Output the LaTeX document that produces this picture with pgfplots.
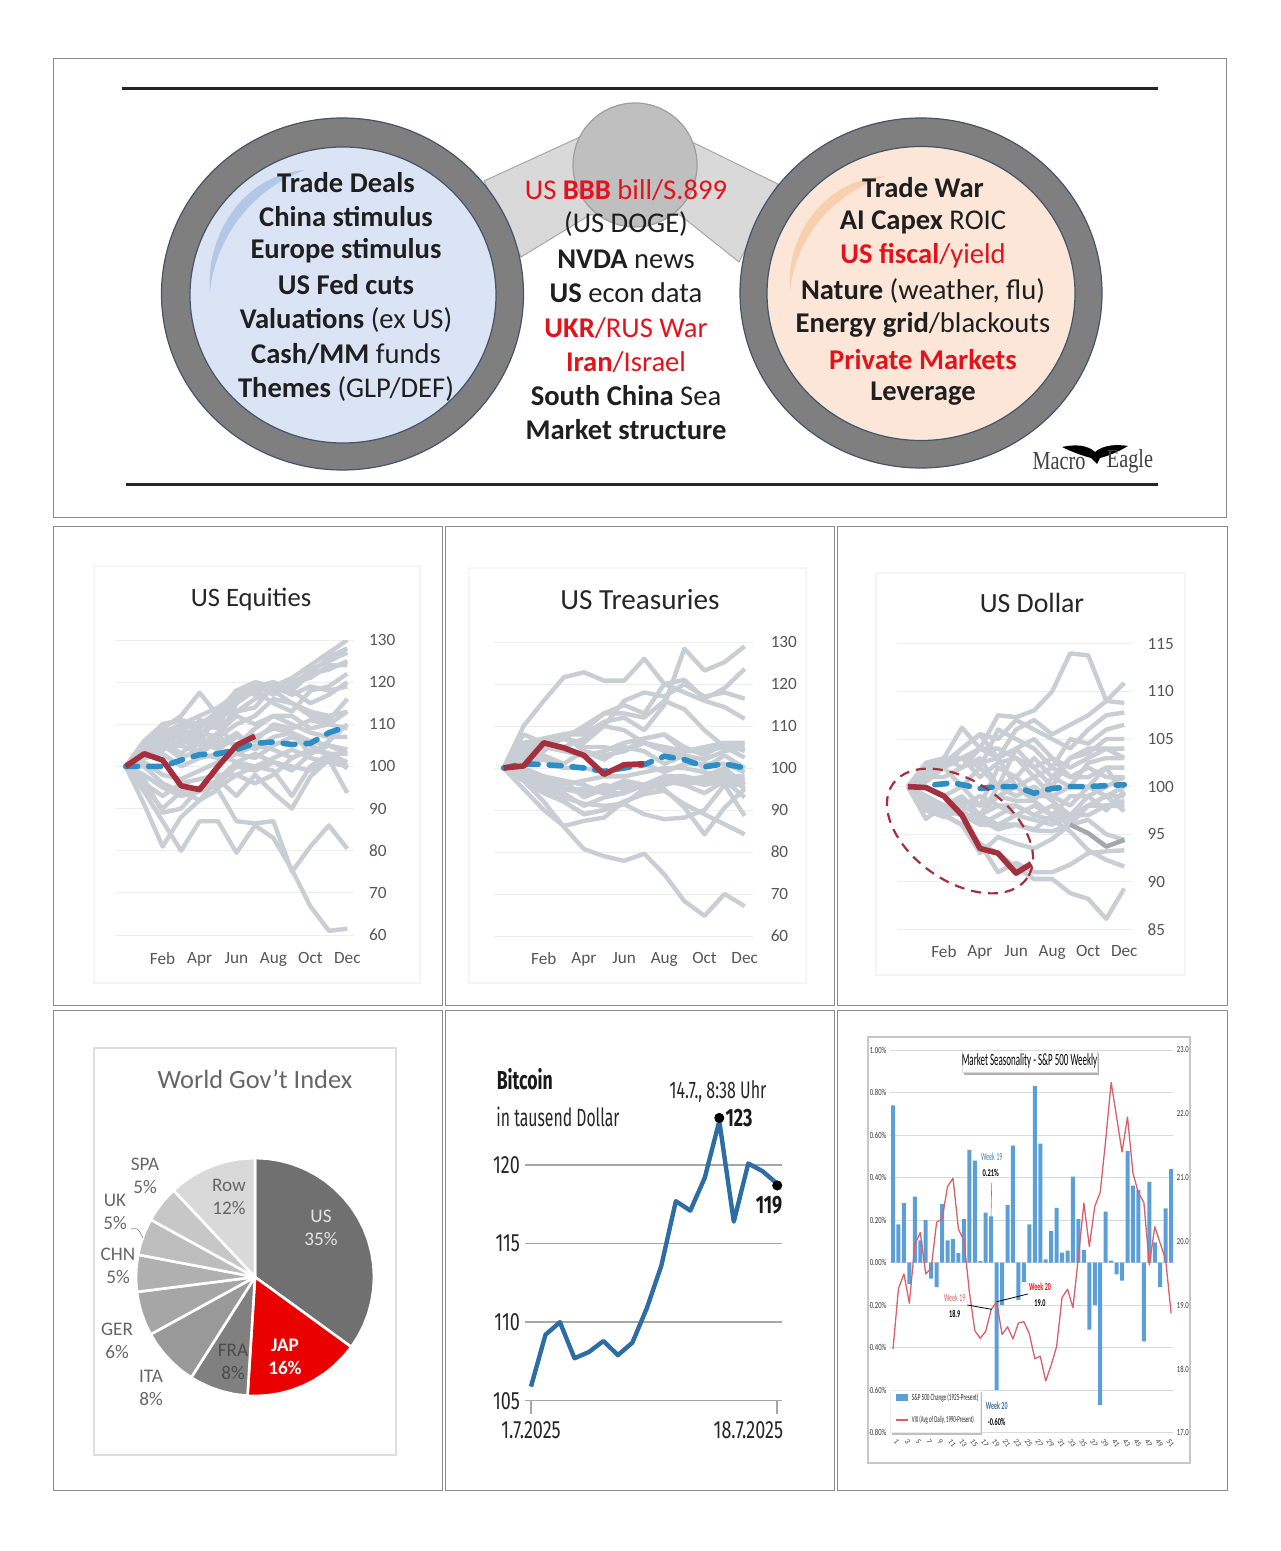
\documentclass[border=0pt]{standalone}
\usepackage{fontspec}
\usepackage{pgfplots}
\pgfplotsset{compat=1.18}
\setmainfont{Carlito}
\newfontfamily\fira{Fira Sans}
\newfontfamily\serifn{Liberation Serif}
\def\px{0.5pt}
\definecolor{glc}{HTML}{C8CED4}
\definecolor{gld}{HTML}{A2A7AA}
\definecolor{bluec}{HTML}{2C8EC4}
\definecolor{redc}{HTML}{A52F3C}
\definecolor{tickc}{HTML}{555555}
\definecolor{ringc}{HTML}{7F7F7F}
\definecolor{ringe}{HTML}{44546A}
\definecolor{barc}{HTML}{5B9FD6}
\definecolor{vixc}{HTML}{D8606A}
\definecolor{lblue}{HTML}{DAE4F4}
\definecolor{lpeach}{HTML}{FBE6D8}
\definecolor{cresb}{HTML}{B4C7E7}
\definecolor{cresp}{HTML}{F8D0B0}
\definecolor{txtred}{HTML}{E3131B}
\definecolor{btc}{HTML}{2E6DA4}
\pgfplotsset{
  scanpanel/.style={scale only axis, axis line style={draw=none}, tick style={draw=none},
    ymajorgrids, grid style={draw=black!7, line width=0.5pt},
    xtick={2,4,6,8,10,12}, xticklabels={Feb,Apr,Jun,Aug,Oct,Dec},
    yticklabel pos=right, tick label style={font=\fontsize{8.6}{10}\selectfont, text=tickc},
    /pgf/number format/assume math mode=true, yticklabel style={anchor=west}},
  gl/.style={glc, line width=2.2pt, line join=round, no marks},
  gd/.style={gld, line width=2.2pt, line join=round, no marks},
  bl/.style={bluec, line width=2.8pt, no marks, line cap=round, dash pattern=on 6pt off 5.5pt},
  rd/.style={redc, line width=2.8pt, no marks, line join=round},
}
\begin{document}
\begin{tikzpicture}
\path[use as bounding box] (0,0) rectangle (640pt,-775.5pt);
\begin{scope}[x=\px,y=-\px]
  % panel frames
  \foreach \a/\b/\c/\d in {53/59/1226/517, 53/526/442/1005, 445/526/834/1005, 837/526/1227/1005,
      53/1010/442/1490, 445/1010/834/1490, 837/1010/1227/1490}
    \draw[black!45, line width=0.5pt] (\a,\b) rectangle (\c,\d);
  \draw[black!85, line width=1.5pt] (122,89) -- (1158,89);
  \draw[black!85, line width=1.5pt] (126,484) -- (1158,484);
  % top diagram
  \filldraw[fill=black!15, draw=black!35, line width=0.5pt]
    (484,181) -- (580,137) -- (692,142) -- (778,184) -- (739,262) -- (680,215) -- (590,215) -- (521,257) -- cycle;
  \filldraw[fill=black!25, draw=black!38, line width=0.6pt] (635,165) circle (62);
  \filldraw[fill=ringc, draw=ringe, line width=0.6pt] (342.5,294) ellipse (181 and 176);
  \filldraw[fill=ringc, draw=ringe, line width=0.6pt] (921,293) ellipse (181 and 175);
  \filldraw[fill=lblue, draw=ringe, line width=0.6pt] (343,295) ellipse (153 and 148);
  \filldraw[fill=lpeach, draw=ringe, line width=0.6pt] (921,293.5) ellipse (154 and 147);
  \fill[cresb] (305,170) .. controls (240,175) and (205,240) .. (210,292) .. controls (215,240) and (250,190) .. (305,170);
  \fill[cresp] (886,176) .. controls (820,180) and (785,240) .. (790,292) .. controls (795,240) and (830,195) .. (886,176);
  \def\tfnt{\fontsize{14.3}{16}\selectfont}
  \foreach \y/\t in {183/{\textbf{Trade Deals}}, 217/{\textbf{China stimulus}}, 251/{\textbf{Europe stimulus}},
      285/{\textbf{US Fed cuts}}, 320/{\textbf{Valuations} (ex US)}, 354/{\textbf{Cash/MM} funds}, 389/{\textbf{Themes} (GLP/DEF)}}
    \node[font=\tfnt, text=black!88] at (346,\y) {\t};
  \foreach \y/\t in {190/{\color{txtred}US \textbf{BBB} bill/S.899}, 224/{(US DOGE)}, 259/{\textbf{NVDA} news},
      293/{\textbf{US} econ data}, 328/{\color{txtred}\textbf{UKR}/RUS War}, 362/{\color{txtred}\textbf{Iran}/Israel},
      396/{\textbf{South China} Sea}, 430/{\textbf{Market structure}}}
    \node[font=\tfnt, text=black!88] at (626,\y) {\t};
  \foreach \y/\t in {188/{\textbf{Trade War}}, 222/{\textbf{AI Capex} ROIC}, 256/{\color{txtred}\textbf{US fiscal}/yield},
      291/{\textbf{Nature} (weather, flu)}, 325/{\textbf{Energy grid}/blackouts}, 360/{\color{txtred}\textbf{Private Markets}}, 394/{\textbf{Leverage}}}
    \node[font=\tfnt, text=black!88] at (923,\y) {\t};
  % logo
  \fill[black] (1062,447) .. controls (1075,444) and (1088,445) .. (1095,452) .. controls (1103,445) and (1116,444) .. (1128,446)
     .. controls (1118,452) and (1108,456) .. (1100,458) -- (1097,464) -- (1091,458) .. controls (1080,455) and (1070,451) .. (1062,447);
  \node[font=\serifn\fontsize{13}{15}\selectfont, xscale=.78, text=black!75] at (1059,461) {Macro};
  \node[font=\serifn\fontsize{13}{15}\selectfont, xscale=.78, text=black!75] at (1130,461) {Eagle};
  % scan borders of the three fan panels
  \draw[black!4, line width=0.7pt] (94,566) rectangle (420,983);
  \draw[black!4, line width=0.7pt] (469,568) rectangle (806,983);
  \draw[black!4, line width=0.7pt] (876,573) rectangle (1185,975);
  \node[font=\fontsize{13.3}{15}\selectfont, text=black!85] at (251,599) {US Equities};
  \node[font=\fontsize{14.6}{16}\selectfont, text=black!85] at (640,600) {US Treasuries};
  \node[font=\fontsize{13.9}{16}\selectfont, text=black!85] at (1032,603) {US Dollar};
\end{scope}

% US Equities
\begin{axis}[scanpanel, at={(115.5*\px,-935*\px)}, anchor=south west, width=238.5*\px, height=295*\px,
  xmin=-0.55, xmax=12.36, ymin=60, ymax=130, ytick={60,70,...,130},
  yticklabel style={xshift=4pt}, xticklabel style={yshift=-5pt}]
\addplot[gl] coordinates {(0,100)(1,106)(2,110)(3,111)(4,108)(5,110)(6,116)(7,118)(8,119)(9,121)(10,124)(11,127)(12,130)};
\addplot[gl] coordinates {(0,100)(1,104)(2,108)(3,110)(4,112)(5,114)(6,117)(7,119)(8,120)(9,118)(10,122)(11,126)(12,128)};
\addplot[gl] coordinates {(0,100)(1,104)(2,107)(3,110)(4,109)(5,113)(6,116)(7,119)(8,117)(9,120)(10,122)(11,123)(12,125)};
\addplot[gl] coordinates {(0,100)(1,103)(2,105)(3,108)(4,106)(5,112)(6,118)(7,117)(8,120)(9,118)(10,115)(11,117)(12,120)};
\addplot[gl] coordinates {(0,100)(1,105)(2,109)(3,112)(4,117.5)(5,112)(6,113)(7,116)(8,118)(9,115)(10,112)(11,111)(12,116)};
\addplot[gl] coordinates {(0,100)(1,103)(2,106)(3,107)(4,108)(5,107)(6,110)(7,112)(8,116)(9,115)(10,113)(11,112)(12,113)};
\addplot[gl] coordinates {(0,100)(1,104)(2,107)(3,105)(4,111)(5,110)(6,104)(7,107)(8,109)(9,108)(10,103)(11,106)(12,110)};
\addplot[gl] coordinates {(0,100)(1,103)(2,106)(3,103)(4,107)(5,105)(6,108)(7,104)(8,107)(9,108)(10,106)(11,105)(12,104)};
\addplot[gl] coordinates {(0,100)(1,102)(2,103)(3,100)(4,102)(5,103)(6,101)(7,100)(8,102)(9,104)(10,102)(11,101)(12,100)};
\addplot[gl] coordinates {(0,100)(1,101)(2,98)(3,97)(4,99)(5,101)(6,103)(7,102)(8,105)(9,107)(10,105)(11,103)(12,103)};
\addplot[gl] coordinates {(0,100)(1,98)(2,95)(3,93)(4,94)(5,97)(6,101)(7,103)(8,101)(9,99)(10,103)(11,105)(12,103)};
\addplot[gl] coordinates {(0,100)(1,96)(2,93)(3,96)(4,97)(5,98)(6,98)(7,100)(8,99)(9,93)(10,100)(11,103)(12,100)};
\addplot[gl] coordinates {(0,100)(1,95)(2,90)(3,94)(4,92)(5,97)(6,93)(7,98)(8,93.7)(9,90)(10,97.6)(11,101.6)(12,93.7)};
\addplot[gl] coordinates {(0,100)(1,97)(2,89)(3,90)(4,95)(5,95)(6,98)(7,96)(8,98)(9,102)(10,104)(11,103)(12,99.5)};
\addplot[gl] coordinates {(0,100)(1,91)(2,81)(3,88)(4,92)(5,94.5)(6,87)(7,86.5)(8,87)(9,75)(10,81)(11,86)(12,80.5)};
\addplot[gl] coordinates {(0,100)(1,94)(2,87)(3,80)(4,87)(5,87)(6,79.5)(7,86)(8,83)(9,75.5)(10,66.8)(11,61)(12,61.5)};
\addplot[gl] coordinates {(0,100)(1,102)(2,105)(3,102)(4,104)(5,107)(6,105)(7,109)(8,112)(9,110)(10,108)(11,107)(12,107)};
\addplot[gl] coordinates {(0,100)(1,106)(2,109)(3,108)(4,103)(5,106)(6,115)(7,118)(8,115)(9,113)(10,118)(11,119)(12,122)};
\addplot[gl] coordinates {(0,100)(1,104)(2,104)(3,106)(4,105)(5,108)(6,112)(7,110)(8,112)(9,112)(10,109)(11,110)(12,113)};
\addplot[gl] coordinates {(0,100)(1,105)(2,108)(3,109)(4,107)(5,111)(6,117)(7,119)(8,118)(9,119)(10,123)(11,125)(12,127)};
\addplot[gl] coordinates {(0,100)(1,104)(2,106)(3,109)(4,110)(5,109)(6,113)(7,114)(8,119)(9,120)(10,121)(11,124)(12,124)};
\addplot[gl] coordinates {(0,100)(1,105)(2,110)(3,111)(4,110)(5,113)(6,118)(7,120)(8,119)(9,117)(10,119)(11,118)(12,119)};
\addplot[gl] coordinates {(0,100)(1,102)(2,104)(3,106)(4,106)(5,104)(6,107)(7,106)(8,110)(9,109)(10,111)(11,110)(12,109)};
\addplot[gl] coordinates {(0,100)(1,103)(2,104)(3,105)(4,103)(5,102)(6,103)(7,105)(8,104)(9,102)(10,104)(11,103)(12,101)};
\addplot[gl] coordinates {(0,100)(1,100)(2,96)(3,94)(4,95)(5,96)(6,100)(7,99)(8,101)(9,100)(10,99)(11,102)(12,100)};
\addplot[bl] coordinates {(0,100)(1,100)(2,100)(3,101.5)(4,102.8)(5,103)(6,104)(7,105.5)(8,105.8)(9,105.2)(10,105.5)(11,108)(12,109.5)};
\addplot[rd] coordinates {(0,100)(1,103)(2,101.5)(3,95.4)(4,94.5)(5,100)(6,105)(7,107.2)};
\end{axis}

% US Treasuries
\begin{axis}[scanpanel, at={(493.5*\px,-936*\px)}, anchor=south west, width=259.2*\px, height=294*\px,
  xmin=-0.5, xmax=12.4, ymin=60, ymax=130, ytick={60,70,...,130},
  yticklabel style={xshift=5.5pt}, xticklabel style={yshift=-4.5pt}]
\addplot[gl] coordinates {(0,100)(1,110)(2,116)(3,121.6)(4,122.8)(5,120.8)(6,120.8)(7,126)(8,120)(9,118)(10,116)(11,114.5)(12,111.7)};
\addplot[gl] coordinates {(0,100)(1,106)(2,107)(3,108)(4,108)(5,111)(6,112)(7,109)(8,115)(9,128.4)(10,123.2)(11,125.2)(12,129)};
\addplot[gl] coordinates {(0,100)(1,104)(2,105)(3,107)(4,110)(5,113)(6,115)(7,113)(8,120)(9,121)(10,116.5)(11,119)(12,123.6)};
\addplot[gl] coordinates {(0,100)(1,103)(2,106)(3,107)(4,106)(5,110)(6,116)(7,118)(8,117)(9,120)(10,117)(11,118)(12,116.5)};
\addplot[gl] coordinates {(0,100)(1,102)(2,104)(3,108)(4,109)(5,113)(6,113)(7,112)(8,116)(9,114)(10,109)(11,105)(12,102.5)};
\addplot[gl] coordinates {(0,100)(1,105)(2,107)(3,108)(4,104)(5,103)(6,104)(7,107)(8,108)(9,104)(10,104)(11,105)(12,106)};
\addplot[gl] coordinates {(0,100)(1,103)(2,105)(3,104)(4,103)(5,104)(6,106)(7,107)(8,108)(9,105)(10,103)(11,106)(12,104)};
\addplot[gl] coordinates {(0,100)(1,102)(2,103)(3,101)(4,104)(5,102)(6,105)(7,104)(8,101)(9,103)(10,100)(11,103)(12,100)};
\addplot[gl] coordinates {(0,100)(1,95)(2,90)(3,86.2)(4,87.4)(5,88.2)(6,92)(7,93.8)(8,94.6)(9,91.4)(10,89)(11,86.6)(12,84.2)};
\addplot[gl] coordinates {(0,100)(1,97)(2,92)(3,86)(4,80.7)(5,79)(6,77.9)(7,79.6)(8,74.7)(9,68.3)(10,64.8)(11,70)(12,67.1)};
\addplot[gl] coordinates {(0,100)(1,98)(2,95)(3,92)(4,89)(5,90)(6,91.4)(7,89)(8,87.8)(9,88.2)(10,90)(11,96)(12,88.6)};
\addplot[gl] coordinates {(0,100)(1,97)(2,95)(3,94)(4,91)(5,93)(6,94)(7,96)(8,95)(9,90.6)(10,84.2)(11,90.6)(12,95)};
\addplot[gl] coordinates {(0,100)(1,98)(2,96)(3,93)(4,91.5)(5,91)(6,91.5)(7,95)(8,96)(9,97)(10,96)(11,97)(12,97)};
\addplot[gl] coordinates {(0,100)(1,99)(2,97)(3,95)(4,94)(5,96)(6,95)(7,96)(8,97)(9,98)(10,97)(11,99)(12,95)};
\addplot[gl] coordinates {(0,100)(1,98)(2,97)(3,97)(4,93)(5,95)(6,97)(7,96)(8,98)(9,97)(10,98)(11,100)(12,96)};
\addplot[gl] coordinates {(0,100)(1,99)(2,98)(3,96)(4,97)(5,98)(6,98)(7,99)(8,100)(9,100)(10,99)(11,98)(12,98)};
\addplot[gl] coordinates {(0,100)(1,101)(2,102)(3,100)(4,100)(5,99)(6,100)(7,101)(8,99)(9,101)(10,101)(11,101)(12,99)};
\addplot[gl] coordinates {(0,100)(1,97)(2,94)(3,92)(4,89)(5,90)(6,92)(7,94)(8,97)(9,96)(10,94)(11,97)(12,93)};
\addplot[gl] coordinates {(0,100)(1,99)(2,96)(3,95)(4,95)(5,94)(6,96)(7,95)(8,97)(9,96)(10,97)(11,96)(12,96)};
\addplot[gl] coordinates {(0,100)(1,100)(2,98)(3,97)(4,96)(5,94)(6,94)(7,96)(8,98)(9,98)(10,96)(11,98)(12,97)};
\addplot[gl] coordinates {(0,100)(1,104)(2,107)(3,107)(4,105)(5,105)(6,104)(7,106)(8,105)(9,104)(10,105)(11,106)(12,106)};
\addplot[gl] coordinates {(0,100)(1,108)(2,106)(3,105)(4,107)(5,110)(6,109)(7,106)(8,104)(9,103)(10,102)(11,104)(12,105)};
\addplot[bl] coordinates {(0,100)(1,101)(2,100.8)(3,100.5)(4,100)(5,99.2)(6,100)(7,100.8)(8,102.8)(9,102)(10,100.3)(11,101)(12,100)};
\addplot[rd] coordinates {(0,100)(1,100.5)(2,106)(3,104.8)(4,103)(5,98.5)(6,100.8)(7,101)};
\end{axis}

% US Dollar
\begin{axis}[scanpanel, at={(897*\px,-929.3*\px)}, anchor=south west, width=234.5*\px, height=285.4*\px,
  xmin=-0.6, xmax=12.4, ymin=85, ymax=115, ytick={85,90,...,115},
  yticklabel style={xshift=4.5pt}, xticklabel style={yshift=-4.5pt}]
\addplot[gl] coordinates {(0,100)(1,102)(2,103)(3,103)(4,104)(5,107.5)(6,107.3)(7,108)(8,110)(9,114)(10,113.8)(11,109)(12,108.8)};
\addplot[gl] coordinates {(0,100)(1,101.5)(2,103)(3,106.2)(4,104)(5,103)(6,106)(7,107)(8,105.5)(9,106.5)(10,107.5)(11,109)(12,110.9)};
\addplot[gl] coordinates {(0,100)(1,102)(2,102.5)(3,104)(4,105.5)(5,105)(6,107)(7,106)(8,105)(9,104)(10,106)(11,107.5)(12,107.8)};
\addplot[gl] coordinates {(0,100)(1,101)(2,103)(3,103)(4,102)(5,106)(6,105)(7,104)(8,102)(9,105)(10,104.5)(11,106)(12,106.5)};
\addplot[gl] coordinates {(0,100)(1,102.5)(2,103)(3,102)(4,103)(5,100)(6,104)(7,102)(8,100)(9,103)(10,103.5)(11,105)(12,105)};
\addplot[gl] coordinates {(0,100)(1,101)(2,102)(3,104)(4,105.5)(5,103)(6,100)(7,98.5)(8,101)(9,103)(10,104)(11,104)(12,104)};
\addplot[gl] coordinates {(0,100)(1,100.5)(2,102)(3,103)(4,101)(5,102.5)(6,103)(7,101)(8,99)(9,100)(10,102.5)(11,103)(12,103)};
\addplot[gl] coordinates {(0,100)(1,102)(2,102)(3,100)(4,98)(5,102)(6,101)(7,103)(8,101)(9,100)(10,100)(11,102)(12,102)};
\addplot[gl] coordinates {(0,100)(1,100)(2,99)(3,100)(4,102)(5,100)(6,99)(7,100)(8,98.5)(9,97)(10,99)(11,100)(12,101)};
\addplot[gl] coordinates {(0,100)(1,99)(2,98)(3,99)(4,97)(5,100)(6,101)(7,99)(8,99)(9,98)(10,100)(11,99)(12,100)};
\addplot[gl] coordinates {(0,100)(1,99)(2,97.5)(3,98)(4,99)(5,98)(6,98)(7,97)(8,98)(9,96.5)(10,98)(11,99)(12,97.4)};
\addplot[gl] coordinates {(0,100)(1,98)(2,97)(3,98)(4,97)(5,99)(6,98.5)(7,98.5)(8,97)(9,96)(10,95.1)(11,93.7)(12,94.4)};
\addplot[gl] coordinates {(0,100)(1,99)(2,98)(3,97)(4,96.5)(5,95.5)(6,96)(7,95.4)(8,95.3)(9,96)(10,98)(11,99)(12,99)};
\addplot[gl] coordinates {(0,100)(1,98.5)(2,97)(3,96)(4,93)(5,94.7)(6,94)(7,93.5)(8,94.5)(9,96)(10,96.5)(11,95)(12,94.4)};
\addplot[gl] coordinates {(0,100)(1,99)(2,97)(3,96)(4,94)(5,91)(6,92)(7,91)(8,91)(9,91.8)(10,93)(11,93.2)(12,93.3)};
\addplot[gl] coordinates {(0,100)(1,98.5)(2,97)(3,96)(4,94)(5,93)(6,91.5)(7,90.3)(8,90.3)(9,88.8)(10,88.2)(11,86.1)(12,89.3)};
\addplot[gl] coordinates {(0,100)(1,99)(2,98)(3,97)(4,96)(5,97)(6,98)(7,97)(8,96.5)(9,95.3)(10,93.3)(11,92.3)(12,91.6)};
\addplot[gl] coordinates {(0,100)(1,96.6)(2,98)(3,98)(4,97)(5,98)(6,97)(7,96.5)(8,96)(9,97)(10,98)(11,98)(12,98)};
\addplot[gl] coordinates {(0,100)(1,97.5)(2,96.8)(3,97.5)(4,96)(5,96)(6,97)(7,98)(8,97)(9,97)(10,97)(11,98)(12,98.5)};
\addplot[gl] coordinates {(0,100)(1,99)(2,98)(3,98.5)(4,98)(5,99)(6,100)(7,101)(8,102)(9,101)(10,102)(11,101)(12,101)};
\addplot[gl] coordinates {(0,100)(1,101)(2,101)(3,102)(4,104)(5,104)(6,103)(7,102)(8,103)(9,102)(10,103)(11,104)(12,103)};
\addplot[gl] coordinates {(0,100)(1,102)(2,102.5)(3,103)(4,102.5)(5,103)(6,104)(7,105)(8,103)(9,101)(10,101)(11,102)(12,99)};
\addplot[gl] coordinates {(0,100)(1,98)(2,97.5)(3,97)(4,97)(5,96)(6,96)(7,95.5)(8,97)(9,99)(10,99)(11,97.5)(12,99.5)};
\addplot[gd] coordinates {(9,96)(10,95.1)(11,93.7)(12,94.4)};
\addplot[bl] coordinates {(1.5,100.2)(2.5,100.4)(4,99.8)(5,100)(6,100)(7,99.3)(8,99.8)(9,100)(10,100)(11,100.1)(12,100.2)};
\addplot[rd] coordinates {(0,100)(1,99.9)(2,99)(3,97)(4,93.5)(5,93)(6,90.9)(6.84,91.9)};
\end{axis}

% World Gov't Index
\begin{axis}[scale only axis, hide axis, at={(136*\px,-1396*\px)}, anchor=south west, width=238*\px, height=238*\px,
  xmin=-1, xmax=1, ymin=-1, ymax=1, clip=false]
\pgfplotsset{every axis plot/.append style={data cs=polar, draw=white, line width=1.3pt, no marks, line join=round}}
\addplot[fill=black!56] coordinates {(0,0)(90,1)(84,1)(78,1)(72,1)(66,1)(60,1)(54,1)(48,1)(42,1)(36,1)(30,1)(24,1)(18,1)(12,1)(6,1)(0,1)(-6,1)(-12,1)(-18,1)(-24,1)(-30,1)(-36,1)(0,0)};
\addplot[fill=red!92!black] coordinates {(0,0)(-36,1)(-42,1)(-48,1)(-54,1)(-60,1)(-66,1)(-72,1)(-78,1)(-84,1)(-90,1)(-93.6,1)(0,0)};
\addplot[fill=black!50] coordinates {(0,0)(-93.6,1)(-100,1)(-106,1)(-112,1)(-118,1)(-122.4,1)(0,0)};
\addplot[fill=black!40] coordinates {(0,0)(-122.4,1)(-128,1)(-134,1)(-140,1)(-146,1)(-151.2,1)(0,0)};
\addplot[fill=black!35] coordinates {(0,0)(-151.2,1)(-157,1)(-163,1)(-168,1)(-172.8,1)(0,0)};
\addplot[fill=black!31] coordinates {(0,0)(-172.8,1)(-178,1)(-184,1)(-190.8,1)(0,0)};
\addplot[fill=black!26] coordinates {(0,0)(-190.8,1)(-196,1)(-202,1)(-208.8,1)(0,0)};
\addplot[fill=black!22] coordinates {(0,0)(-208.8,1)(-214,1)(-220,1)(-226.8,1)(0,0)};
\addplot[fill=black!15] coordinates {(0,0)(-226.8,1)(-232,1)(-238,1)(-244,1)(-250,1)(-256,1)(-262,1)(-270,1)(0,0)};
\end{axis}

% Bitcoin
\begin{axis}[scale only axis, at={(525*\px,-1400.7*\px)}, anchor=south west, width=257.3*\px, height=282.8*\px,
  xmin=0.586, xmax=18.35, ymin=105, ymax=123, clip=false,
  axis line style={draw=none}, ymajorgrids, grid style={draw=black!35, line width=0.75pt},
  ytick={105,110,115,120}, xtick={1,18}, xticklabels={1.7.2025,18.7.2025\hspace*{40pt}},
  /pgf/number format/assume math mode=true, xtick pos=bottom,
  ytick style={draw=none}, xtick style={draw=black!35, line width=0.75pt}, tick align=outside, major tick length=6.5pt,
  tick label style={font=\fira\fontsize{12.5}{14}\selectfont, text=black!85, xscale=.72},
  yticklabel style={xshift=9pt}, xticklabel style={yshift=-0.5pt}]
\addplot[btc, line width=2.2pt, no marks, line join=round] coordinates {
 (1,105.9)(2,109.2)(3,110)(4,107.7)(5,108.1)(6,108.8)(7,107.9)(8,108.7)(9,110.9)(10,113.6)(11,117.7)(12,117.1)(13,119.2)(14,122.8)(15,116.4)(16,120.1)(17,119.6)(18,118.8)};
\addplot[only marks, mark=*, mark size=2.3pt, black] coordinates {(14,123)(18,118.7)};
\end{axis}

% S&P seasonality: bars on the left axis
\begin{axis}[scale only axis, at={(890*\px,-1432.7*\px)}, anchor=south west, width=283.3*\px, height=382.7*\px,
  xmin=0.45, xmax=52.4, ymin=-0.8, ymax=1, clip=false,
  axis line style={draw=none}, tick style={draw=none}, ymajorgrids, grid style={draw=black!15, line width=0.4pt},
  ytick={-0.8,-0.6,-0.4,-0.2,0,0.2,0.4,0.6,0.8,1},
  yticklabels={-0.80\%,-0.60\%,-0.40\%,-0.20\%,0.00\%,0.20\%,0.40\%,0.60\%,0.80\%,1.00\%},
  xtick={1,3,...,51}, xticklabel pos=bottom,
  /pgf/number format/assume math mode=true,
  yticklabel style={font=\fontsize{4.6}{5}\selectfont, xscale=.72, text=black!80, xshift=1pt},
  xticklabel style={font=\fontsize{3.8}{4}\selectfont, rotate=-55, text=black!75, anchor=west, yshift=-1pt}]
\addplot[ybar, bar width=2pt, bar shift=0pt, fill=barc, draw=none] coordinates {
 (1,0.74)(2,0.18)(3,0.28)(4,-0.10)(5,0.31)(6,0.105)(7,0.20)(8,-0.075)(9,-0.115)(10,0.275)(11,0.105)(12,0.11)(13,0.045)
 (14,0.205)(15,0.53)(16,0.48)(17,0.007)(18,0.235)(19,0.218)(20,-0.60)(21,-0.20)(22,0.27)(23,0.55)(24,-0.175)(25,-0.09)(26,0.18)
 (27,0.83)(28,0.56)(29,0.015)(30,0.148)(31,0.258)(32,0.047)(33,0.057)(34,0.405)(35,0.205)(36,0.06)(37,-0.315)(38,-0.20)(39,-0.67)
 (40,0.24)(41,0.01)(42,-0.055)(43,-0.085)(44,0.525)(45,0.362)(46,0.342)(47,-0.37)(48,0.38)(49,0.095)(50,-0.115)(51,0.255)(52,0.44)};
\end{axis}

% S&P seasonality: VIX on the right axis
\begin{axis}[scale only axis, at={(890*\px,-1432.7*\px)}, anchor=south west, width=283.3*\px, height=382.7*\px,
  xmin=0.45, xmax=52.4, ymin=17, ymax=23, clip=false,
  axis line style={draw=none}, tick style={draw=none}, xtick=\empty,
  ytick={17,18,...,23}, yticklabel pos=right, /pgf/number format/assume math mode=true,
  /pgf/number format/fixed, /pgf/number format/fixed zerofill, /pgf/number format/precision=1,
  yticklabel style={font=\fontsize{4.6}{5}\selectfont, xscale=.72, text=black!80, xshift=-1pt}]
\addplot[vixc, line width=0.65pt, no marks, line join=round] coordinates {
 (1,18.31)(2,19.26)(3,19.49)(4,19.03)(5,19.95)(6,20.14)(7,19.49)(8,19.58)(9,20.30)(10,20.35)(11,20.86)(12,20.99)(13,20.19)
 (14,20.02)(15,19.21)(16,18.6)(17,18.48)(18,18.59)(19,18.93)(20,19.05)(21,18.54)(22,18.66)(23,18.47)(24,18.72)(25,18.74)(26,18.55)
 (27,18.16)(28,18.2)(29,17.81)(30,18.06)(31,18.35)(32,19.12)(33,19.25)(34,18.96)(35,19.76)(36,20.6)(37,19.92)(38,20.55)(39,20.77)
 (40,21.59)(41,22.49)(42,21.95)(43,21.4)(44,21.95)(45,21.07)(46,20.76)(47,20.61)(48,19.63)(49,20.23)(50,19.97)(51,19.71)(52,18.87)};
\end{axis}

\begin{scope}[x=\px,y=-\px]
  % red ring on US Dollar
  \draw[redc, line width=1.1pt, dash pattern=on 5pt off 3.5pt, rotate around={-35:(960,831)}] (960,831) ellipse (82 and 50);
  % pie labels
  \node[font=\fontsize{13.2}{15}\selectfont, text=black!60] at (255,1079) {World Gov't Index};
  \draw[black!13, line width=1pt] (94,1048) rectangle (396,1455);
  \foreach \x/\y/\a/\b in {145/1175.5/SPA/5\%, 115/1211.5/UK/5\%, 118/1266/CHN/5\%, 117/1341/GER/6\%, 151/1388/ITA/8\%}
    \node[font=\fontsize{9.6}{11.5}\selectfont, text=black!60, align=center] at (\x,\y) {\a\\\b};
  \node[font=\fontsize{9.6}{11.5}\selectfont, text=black!70, align=center] at (233,1362) {FRA\\8\%};
  \node[font=\bfseries\fontsize{9.6}{11.5}\selectfont, text=white, align=center] at (285,1357) {JAP\\16\%};
  \node[font=\fontsize{9.6}{11.5}\selectfont, text=black!10, align=center] at (321,1228) {US\\35\%};
  \node[font=\fontsize{9.6}{11.5}\selectfont, text=black!60, align=center] at (229,1197) {Row\\12\%};
  \draw[black!50, line width=0.3pt] (131,1229) .. controls (138,1228) .. (143,1238);
  % bitcoin texts
  \node[font=\fira\bfseries\fontsize{13}{15}\selectfont, xscale=.68, anchor=west, text=black!90] at (492,1079) {Bitcoin};
  \node[font=\fira\fontsize{12.5}{15}\selectfont, xscale=.63, anchor=west, text=black!85] at (492,1117) {in tausend Dollar};
  \node[font=\fira\fontsize{12}{15}\selectfont, xscale=.665, text=black!85] at (718,1092) {14.7., 8:38 Uhr};
  \node[font=\fira\bfseries\fontsize{12.5}{15}\selectfont, xscale=.72, text=black!90] at (739,1118) {123};
  \node[font=\fira\bfseries\fontsize{12.5}{15}\selectfont, xscale=.72, text=black!90] at (769,1205) {119};
  % seasonality frame and boxes
  \draw[black!22, line width=0.6pt] (868,1037) rectangle (1190,1463);
  \fill[black!30] (964,1053) rectangle (1099,1075);
  \filldraw[fill=white, draw=black!15, line width=0.3pt] (962,1050) rectangle (1097,1072);
  \node[font=\fontsize{8.6}{10}\selectfont, xscale=.52, text=black] at (1029.5,1060.5) {Market Seasonality - S\&P 500 Weekly};
  \fill[black!25] (892,1392) rectangle (982,1435);
  \filldraw[fill=white, draw=black!8, line width=0.3pt] (890,1390) rectangle (980,1432);
  \fill[barc] (896,1394) rectangle (908,1401);
  \draw[vixc, line width=0.7pt] (896,1420) -- (908,1420);
  \node[font=\fontsize{4.6}{5}\selectfont, xscale=.56, anchor=west, text=black!85] at (908,1397.5) {S\&P 500 Change (1925-Present)};
  \node[font=\fontsize{4.6}{5}\selectfont, xscale=.53, anchor=west, text=black!85] at (908,1420) {VIX (Avg of Daily, 1990-Present)};
  \node[font=\fontsize{5.4}{6}\selectfont, xscale=.56, text=barc!80!black] at (991.7,1157) {Week 19};
  \node[font=\bfseries\fontsize{5.2}{6}\selectfont, xscale=.62, text=black] at (990.7,1173) {0.21\%};
  \draw[black!50, line width=0.3pt] (991.7,1183) -- (991,1217);
  \node[font=\fontsize{5.4}{6}\selectfont, xscale=.56, text=vixc] at (954.7,1297.7) {Week 19};
  \node[font=\bfseries\fontsize{5.2}{6}\selectfont, xscale=.6, text=black] at (954.7,1314) {18.9};
  \draw[black, line width=0.4pt] (967.3,1305) -- (991.7,1309.3);
  \node[font=\bfseries\fontsize{5.4}{6}\selectfont, xscale=.56, text=txtred] at (1040,1286.7) {Week 20};
  \node[font=\bfseries\fontsize{5.2}{6}\selectfont, xscale=.6, text=black] at (1040,1302.7) {19.0};
  \draw[black, line width=0.4pt] (996.7,1301.7) -- (1027.7,1294);
  \node[font=\bfseries\fontsize{5.4}{6}\selectfont, xscale=.56, text=barc!70!black] at (996.7,1405.7) {Week 20};
  \node[font=\bfseries\fontsize{5.2}{6}\selectfont, xscale=.6, text=black] at (996.7,1421.7) {-0.60\%};
\end{scope}
\end{tikzpicture}
\end{document}
